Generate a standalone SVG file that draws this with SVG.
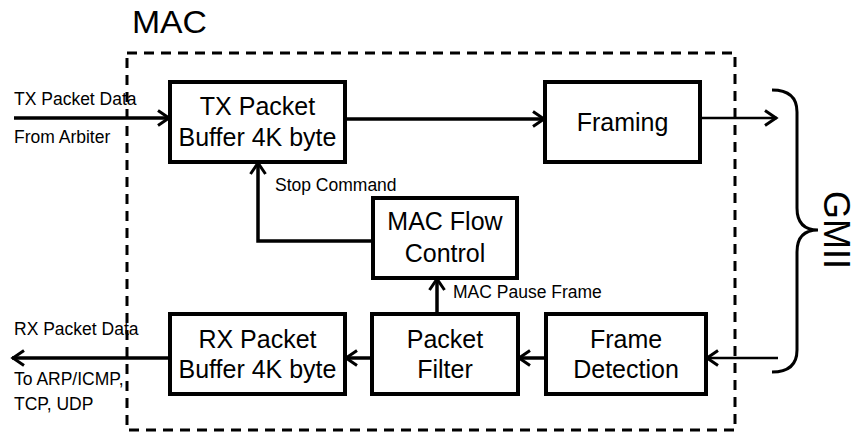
<svg xmlns="http://www.w3.org/2000/svg" width="859" height="433" viewBox="0 0 859 433">
  <style>
    .box { fill: #fff; stroke: #000; stroke-width: 4; }
    .wire { fill: none; stroke: #000; stroke-width: 3.5; }
    .thin { fill: none; stroke: #000; stroke-width: 2.5; }
    .big { font-family: "Liberation Sans", Arial, sans-serif; font-size: 25px; text-anchor: middle; fill: #000; }
    .lbl { font-family: "Liberation Sans", Arial, sans-serif; font-size: 17.5px; fill: #000; }
  </style>
  <defs>
    <marker id="chev" viewBox="-14 -10 16 20" refX="0" refY="0" markerWidth="16" markerHeight="20" markerUnits="userSpaceOnUse" orient="auto">
      <path d="M-12,-7.5 L-1,0 L-12,7.5" fill="none" stroke="#000" stroke-width="3" stroke-linejoin="miter"/>
    </marker>
  </defs>

  <!-- MAC boundary -->
  <g id="mac-boundary">
    <rect x="127" y="53" width="608" height="377" fill="none" stroke="#000" stroke-width="3" stroke-dasharray="10 7"/>
    <text x="132" y="33" font-family="'Liberation Sans', Arial, sans-serif" font-size="31" textLength="75" lengthAdjust="spacingAndGlyphs">MAC</text>
  </g>

  <!-- GMII brace -->
  <g id="gmii">
    <path d="M772,90 Q797,90 797,112 L797,208 Q797,230 818,230 Q797,230 797,252 L797,350 Q797,372 772,372" fill="none" stroke="#000" stroke-width="3"/>
    <text transform="translate(824,230) scale(1.03,1) rotate(90)" font-family="'Liberation Sans', Arial, sans-serif" font-size="36" text-anchor="middle">GMII</text>
  </g>

  <!-- connectors -->
  <g id="connectors">
    <line class="wire" x1="14" y1="118" x2="170" y2="118" marker-end="url(#chev)"/>
    <line class="wire" x1="345" y1="119" x2="545" y2="119" marker-end="url(#chev)"/>
    <line class="thin" x1="700" y1="118" x2="777" y2="118" marker-end="url(#chev)"/>
    <polyline class="wire" points="373,241 258,241 258,162" marker-end="url(#chev)"/>
    <line class="wire" x1="437" y1="314" x2="437" y2="278" marker-end="url(#chev)"/>
    <line class="thin" x1="778" y1="358" x2="706" y2="358" marker-end="url(#chev)"/>
    <line class="wire" x1="546" y1="358" x2="518" y2="358" marker-end="url(#chev)"/>
    <line class="wire" x1="372" y1="358" x2="345" y2="358" marker-end="url(#chev)"/>
    <line class="wire" x1="170" y1="358" x2="12" y2="358" marker-end="url(#chev)"/>
  </g>

  <!-- connector labels -->
  <g id="labels">
    <text class="lbl" x="14" y="105">TX Packet Data</text>
    <text class="lbl" x="14" y="143">From Arbiter</text>
    <text class="lbl" x="275" y="191">Stop Command</text>
    <text class="lbl" x="453" y="298">MAC Pause Frame</text>
    <text class="lbl" x="14" y="335">RX Packet Data</text>
    <text class="lbl" x="14" y="385">To ARP/ICMP,</text>
    <text class="lbl" x="14" y="410">TCP, UDP</text>
  </g>

  <g id="tx-buffer">
    <rect class="box" x="170" y="82" width="175" height="80"/>
    <text class="big" x="257.5" y="115">TX Packet</text>
    <text class="big" x="257.5" y="146">Buffer 4K byte</text>
  </g>

  <g id="framing">
    <rect class="box" x="545" y="82" width="155" height="80"/>
    <text class="big" x="622.5" y="131">Framing</text>
  </g>

  <g id="flow-control">
    <rect class="box" x="373" y="198" width="144" height="80"/>
    <text class="big" x="445" y="230">MAC Flow</text>
    <text class="big" x="445" y="262">Control</text>
  </g>

  <g id="rx-buffer">
    <rect class="box" x="170" y="314" width="175" height="80"/>
    <text class="big" x="257.5" y="348">RX Packet</text>
    <text class="big" x="257.5" y="378">Buffer 4K byte</text>
  </g>

  <g id="packet-filter">
    <rect class="box" x="372" y="314" width="146" height="80"/>
    <text class="big" x="445" y="348">Packet</text>
    <text class="big" x="445" y="378">Filter</text>
  </g>

  <g id="frame-detection">
    <rect class="box" x="546" y="314" width="160" height="80"/>
    <text class="big" x="626" y="348">Frame</text>
    <text class="big" x="626" y="378">Detection</text>
  </g>
</svg>
